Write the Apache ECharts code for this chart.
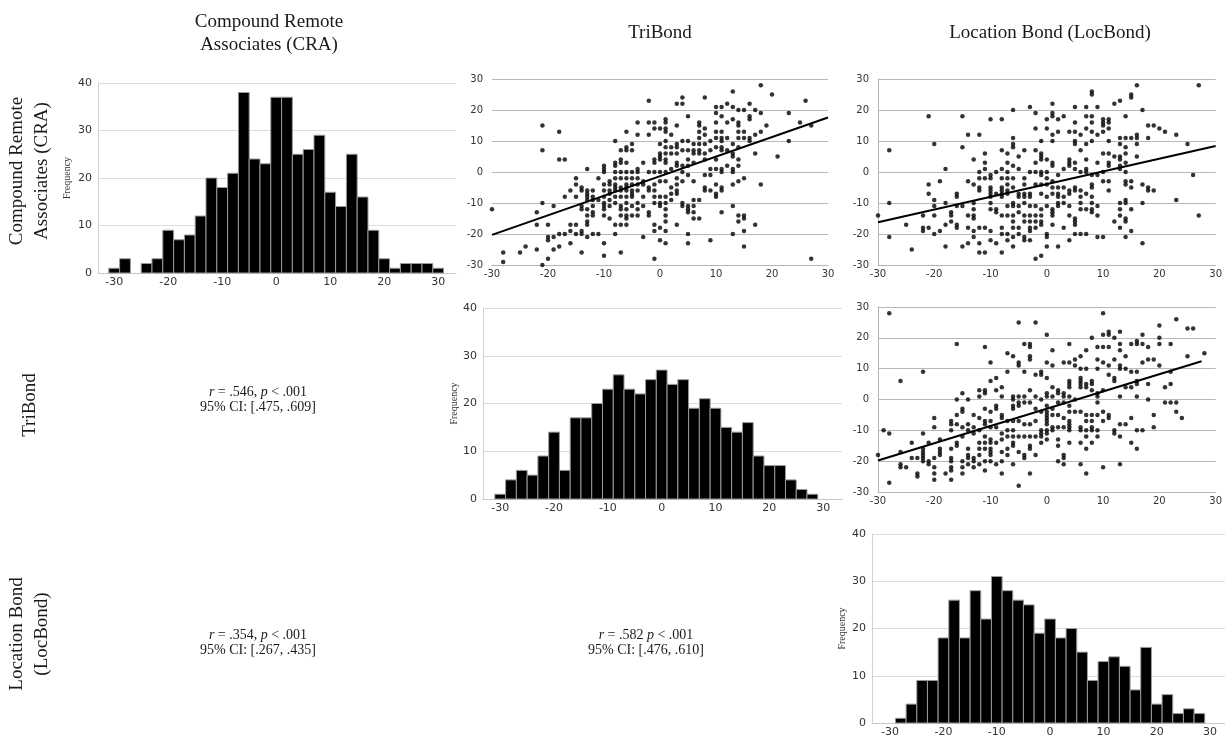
<!DOCTYPE html>
<html>
<head>
<meta charset="utf-8">
<script src="https://cdn.jsdelivr.net/npm/echarts@6/dist/echarts.min.js"></script>
<style>
html,body{margin:0;padding:0;background:#fff;}
#chart{width:1225px;height:738px;}
</style>
</head>
<body>
<div id="chart"></div>
<script>
// ---------- DATA ----------
const xTickValues = [-30, -20, -10, 0, 10, 20, 30];
const colTitles = ['Compound Remote\nAssociates (CRA)', 'TriBond', 'Location Bond (LocBond)'];
const rowTitles = ['Compound Remote\nAssociates (CRA)', 'TriBond', 'Location Bond\n(LocBond)'];
const binWidth = 2;

const craBinCenters = [-30,-28,-26,-24,-22,-20,-18,-16,-14,-12,-10,-8,-6,-4,-2,0,2,4,6,8,10,12,14,16,18,20,22,24,26,28,30];
const craCounts     = [1,3,0,2,3,9,7,8,12,20,18,21,38,24,23,37,37,25,26,29,17,14,25,16,9,3,1,2,2,2,1];

const triBinCenters = [-30,-28,-26,-24,-22,-20,-18,-16,-14,-12,-10,-8,-6,-4,-2,0,2,4,6,8,10,12,14,16,18,20,22,24,26,28];
const triCounts     = [1,4,6,5,9,14,6,17,17,20,23,26,23,22,25,27,24,25,19,21,19,15,14,16,9,7,7,4,2,1];

const locBinCenters = [-28,-26,-24,-22,-20,-18,-16,-14,-12,-10,-8,-6,-4,-2,0,2,4,6,8,10,12,14,16,18,20,22,24,26,28];
const locCounts     = [1,4,9,9,18,26,18,28,22,31,28,26,25,19,22,18,20,15,9,13,14,12,7,16,4,6,2,3,2];

// Scatter: x = TriBond, y = CRA
const triVsCra = [
[-30,-12],[-28,-26],[-28,-29],[-25,-26],[-24,-24],[-22,-13],[-22,-17],[-22,-25],
[-21,15],[-21,7],[-21,-10],[-21,-30],[-20,-17],[-20,-21],[-20,-22],[-20,-28],
[-19,-11],[-19,-21],[-19,-25],[-18,13],[-18,4],[-18,-20],[-18,-24],[-17,4],[-17,-8],[-17,-20],
[-16,-6],[-16,-17],[-16,-19],[-16,-23],[-15,-2],[-15,-4],[-15,-8],[-15,-17],[-15,-20],
[-14,-5],[-14,-6],[-14,-11],[-14,-12],[-14,-19],[-14,-20],[-14,-26],
[-13,1],[-13,-6],[-13,-7],[-13,-8],[-13,-9],[-13,-12],[-13,-14],[-13,-16],[-13,-17],[-13,-21],
[-12,-6],[-12,-8],[-12,-9],[-12,-11],[-12,-13],[-12,-14],[-12,-20],[-11,-2],[-11,-9],[-11,-20],
[-10,2],[-10,1],[-10,0],[-10,-4],[-10,-6],[-10,-8],[-10,-10],[-10,-11],[-10,-12],[-10,-14],[-10,-23],[-10,-27],
[-9,-3],[-9,-4],[-9,-6],[-9,-7],[-9,-9],[-9,-11],[-9,-15],
[-8,10],[-8,3],[-8,2],[-8,0],[-8,-2],[-8,-4],[-8,-5],[-8,-6],[-8,-8],[-8,-10],[-8,-17],[-8,-20],
[-7,7],[-7,4],[-7,3],[-7,0],[-7,-2],[-7,-5],[-7,-6],[-7,-8],[-7,-11],[-7,-12],[-7,-14],[-7,-17],[-7,-26],
[-6,13],[-6,8],[-6,7],[-6,3],[-6,0],[-6,-2],[-6,-4],[-6,-5],[-6,-6],[-6,-8],[-6,-10],[-6,-12],[-6,-14],[-6,-15],[-6,-17],
[-5,9],[-5,7],[-5,0],[-5,-2],[-5,-4],[-5,-6],[-5,-7],[-5,-8],[-5,-11],[-5,-14],
[-4,16],[-4,12],[-4,1],[-4,0],[-4,-2],[-4,-4],[-4,-6],[-4,-10],[-4,-12],[-4,-14],
[-3,3],[-3,-3],[-3,-4],[-3,-8],[-3,-11],[-3,-21],
[-2,23],[-2,16],[-2,12],[-2,0],[-2,-5],[-2,-6],[-2,-13],[-2,-14],
[-1,16],[-1,14],[-1,4],[-1,3],[-1,0],[-1,-4],[-1,-6],[-1,-8],[-1,-10],[-1,-17],[-1,-19],[-1,-28],
[0,14],[0,9],[0,6],[0,5],[0,4],[0,0],[0,-3],[0,-8],[0,-10],[0,-11],[0,-18],[0,-22],
[1,17],[1,16],[1,14],[1,13],[1,10],[1,8],[1,6],[1,4],[1,3],[1,0],[1,-3],[1,-8],[1,-10],[1,-12],[1,-14],[1,-16],[1,-19],[1,-23],
[2,12],[2,8],[2,6],[2,1],[2,-5],[2,-7],[2,-9],
[3,22],[3,15],[3,9],[3,8],[3,6],[3,3],[3,2],[3,-2],[3,-4],[3,-6],[3,-7],[3,-17],
[4,24],[4,22],[4,10],[4,7],[4,2],[4,0],[4,-3],[4,-10],[4,-11],
[5,18],[5,10],[5,7],[5,4],[5,2],[5,-1],[5,-11],[5,-12],[5,-13],[5,-20],[5,-23],
[6,9],[6,7],[6,6],[6,3],[6,-3],[6,-9],[6,-11],[6,-13],[6,-15],
[7,16],[7,15],[7,13],[7,11],[7,9],[7,7],[7,6],[7,-9],[7,-15],
[8,24],[8,14],[8,12],[8,9],[8,6],[8,4],[8,-1],[8,-5],[8,-6],
[9,10],[9,7],[9,1],[9,-1],[9,-6],[9,-22],
[10,21],[10,19],[10,16],[10,13],[10,11],[10,8],[10,4],[10,1],[10,-4],[10,-7],[10,-8],
[11,21],[11,18],[11,13],[11,11],[11,10],[11,8],[11,7],[11,1],[11,0],[11,-5],[11,-6],[11,-13],
[12,22],[12,16],[12,11],[12,7],[12,2],
[13,26],[13,21],[13,17],[13,9],[13,6],[13,5],[13,1],[13,0],[13,-4],[13,-11],[13,-20],
[14,20],[14,16],[14,15],[14,13],[14,11],[14,8],[14,4],[14,2],[14,-3],[14,-14],[14,-16],
[15,20],[15,13],[15,11],[15,-2],[15,-14],[15,-15],[15,-19],[15,-24],
[16,22],[16,18],[16,17],[16,11],[16,10],[17,20],[17,12],[17,6],[17,-17],
[18,28],[18,19],[18,13],[18,-4],[19,15],[20,25],[21,5],[23,19],[23,10],[25,16],[26,23],[27,15],[27,-28]
];
const triVsCraFit = [[-30,-20.3],[30,17.6]];

// Scatter: x = LocBond, y = CRA
const locVsCra = [
[-30,-14],[-28,7],[-28,-10],[-28,-21],[-25,-17],[-24,-25],[-22,-14],[-22,-18],[-22,-19],
[-21,18],[-21,-4],[-21,-7],[-21,-18],[-20,9],[-20,-9],[-20,-11],[-20,-14],[-20,-20],
[-19,-3],[-19,-19],[-18,1],[-18,-10],[-18,-17],[-18,-24],[-17,-13],[-17,-14],[-17,-16],
[-16,-7],[-16,-8],[-16,-11],[-16,-17],[-16,-18],[-15,18],[-15,8],[-15,-11],[-15,-24],
[-14,12],[-14,-3],[-14,-14],[-14,-18],[-14,-23],
[-13,4],[-13,-4],[-13,-10],[-13,-12],[-13,-14],[-13,-15],[-13,-19],[-13,-21],
[-12,12],[-12,0],[-12,-2],[-12,-5],[-12,-6],[-12,-18],[-12,-23],[-12,-26],
[-11,6],[-11,3],[-11,1],[-11,-2],[-11,-18],[-11,-26],
[-10,17],[-10,-1],[-10,-2],[-10,-5],[-10,-6],[-10,-7],[-10,-8],[-10,-10],[-10,-12],[-10,-19],[-10,-22],
[-9,0],[-9,-7],[-9,-12],[-9,-13],[-9,-23],
[-8,17],[-8,7],[-8,1],[-8,-2],[-8,-5],[-8,-6],[-8,-7],[-8,-8],[-8,-14],[-8,-18],[-8,-20],[-8,-26],
[-7,6],[-7,3],[-7,0],[-7,-2],[-7,-4],[-7,-6],[-7,-7],[-7,-11],[-7,-14],[-7,-20],[-7,-22],
[-6,20],[-6,11],[-6,9],[-6,8],[-6,2],[-6,-2],[-6,-5],[-6,-10],[-6,-11],[-6,-14],[-6,-16],[-6,-18],[-6,-21],[-6,-24],
[-5,5],[-5,1],[-5,-7],[-5,-8],[-5,-11],[-5,-13],[-5,-18],[-5,-20],
[-4,7],[-4,-2],[-4,-4],[-4,-7],[-4,-8],[-4,-10],[-4,-14],[-4,-16],[-4,-21],[-4,-22],
[-3,21],[-3,0],[-3,-7],[-3,-8],[-3,-11],[-3,-14],[-3,-16],[-3,-18],[-3,-19],[-3,-22],
[-2,19],[-2,14],[-2,7],[-2,3],[-2,0],[-2,-4],[-2,-11],[-2,-14],[-2,-16],[-2,-18],[-2,-28],
[-1,10],[-1,6],[-1,5],[-1,4],[-1,0],[-1,-1],[-1,-4],[-1,-7],[-1,-12],[-1,-14],[-1,-16],[-1,-17],[-1,-27],
[0,17],[0,14],[0,4],[0,0],[0,-2],[0,-4],[0,-8],[0,-11],[0,-20],[0,-21],[0,-24],
[1,22],[1,19],[1,18],[1,12],[1,10],[1,3],[1,2],[1,-3],[1,-5],[1,-7],[1,-12],[1,-13],[1,-14],[1,-17],
[2,17],[2,13],[2,-1],[2,-5],[2,-7],[2,-8],[2,-10],[2,-11],[2,-24],
[3,18],[3,1],[3,-5],[3,-8],[3,-10],[3,-18],
[4,13],[4,4],[4,3],[4,2],[4,-6],[4,-7],[4,-11],[4,-14],[4,-22],
[5,21],[5,16],[5,13],[5,10],[5,9],[5,3],[5,1],[5,-5],[5,-6],[5,-15],[5,-16],[5,-17],[5,-20],
[6,12],[6,7],[6,0],[6,-6],[6,-8],[6,-10],[6,-12],[6,-20],
[7,21],[7,18],[7,14],[7,9],[7,4],[7,1],[7,0],[7,-7],[7,-12],[7,-20],
[8,26],[8,25],[8,18],[8,16],[8,13],[8,10],[8,-1],[8,-4],[8,-5],[8,-8],[8,-10],[8,-12],[8,-13],
[9,21],[9,12],[9,3],[9,-1],[9,-11],[9,-14],[9,-21],
[10,17],[10,16],[10,15],[10,13],[10,6],[10,0],[10,-3],[10,-21],
[11,17],[11,16],[11,14],[11,10],[11,6],[11,3],[11,2],[11,-3],[11,-6],
[12,22],[12,5],[12,-16],
[13,23],[13,11],[13,9],[13,5],[13,4],[13,2],[13,1],[13,-10],[13,-12],[13,-14],[13,-18],
[14,18],[14,11],[14,8],[14,6],[14,3],[14,0],[14,-3],[14,-4],[14,-9],[14,-10],[14,-15],[14,-16],[14,-21],
[15,25],[15,24],[15,11],[15,-3],[15,-5],[15,-12],[15,-19],
[16,28],[16,12],[16,11],[16,9],[16,5],[17,20],[17,-4],[17,-10],[17,-23],
[18,15],[18,11],[18,-5],[18,-6],[19,15],[19,-6],[20,14],[21,13],[23,12],[23,-9],[25,9],[26,-1],[27,28],[27,-14]
];
const locVsCraFit = [[-30,-16.2],[30,8.4]];

// Scatter: x = LocBond, y = TriBond
const locVsTri = [
[-30,-18],[-29,-10],[-28,28],[-28,-11],[-28,-27],[-26,6],[-26,-17],[-26,-21],[-26,-22],[-25,-22],
[-24,-14],[-24,-19],[-23,-19],[-23,-24],[-23,-25],
[-22,9],[-22,-11],[-22,-16],[-22,-17],[-22,-18],[-22,-19],[-22,-20],
[-21,-14],[-21,-20],[-21,-21],[-20,-6],[-20,-9],[-20,-19],[-20,-22],[-20,-24],[-20,-26],
[-19,-13],[-19,-16],[-19,-17],[-19,-18],[-18,-24],
[-17,-7],[-17,-8],[-17,-10],[-17,-16],[-17,-19],[-17,-20],[-17,-22],[-17,-23],[-17,-26],
[-16,18],[-16,0],[-16,-5],[-16,-8],[-16,-14],[-16,-15],
[-15,2],[-15,-3],[-15,-4],[-15,-9],[-15,-12],[-15,-20],[-15,-22],[-15,-24],
[-14,0],[-14,-8],[-14,-10],[-14,-16],[-14,-18],[-14,-19],[-14,-21],
[-13,-5],[-13,-9],[-13,-11],[-13,-19],[-13,-20],[-13,-22],
[-12,3],[-12,1],[-12,-6],[-12,-10],[-12,-14],[-12,-16],[-12,-18],[-12,-21],
[-11,17],[-11,3],[-11,2],[-11,-3],[-11,-7],[-11,-8],[-11,-12],[-11,-14],[-11,-16],[-11,-20],[-11,-23],
[-10,12],[-10,6],[-10,-4],[-10,-7],[-10,-9],[-10,-13],[-10,-14],[-10,-16],[-10,-17],[-10,-18],[-10,-20],
[-9,7],[-9,3],[-9,-2],[-9,-3],[-9,-9],[-9,-14],[-9,-21],
[-8,4],[-8,1],[-8,-5],[-8,-6],[-8,-11],[-8,-13],[-8,-17],[-8,-20],[-8,-24],
[-7,15],[-7,9],[-7,-7],[-7,-10],[-7,-12],[-7,-16],[-7,-18],
[-6,14],[-6,1],[-6,0],[-6,-2],[-6,-3],[-6,-7],[-6,-10],[-6,-12],[-6,-14],[-6,-15],[-6,-21],
[-5,25],[-5,11],[-5,12],[-5,1],[-5,-1],[-5,-2],[-5,-7],[-5,-12],[-5,-17],[-5,-28],
[-4,18],[-4,9],[-4,1],[-4,-1],[-4,-8],[-4,-12],[-4,-18],[-4,-19],
[-3,18],[-3,17],[-3,14],[-3,13],[-3,3],[-3,-1],[-3,-8],[-3,-12],[-3,-15],[-3,-16],[-3,-24],
[-2,25],[-2,8],[-2,1],[-2,-3],[-2,-7],[-2,-12],[-2,-18],
[-1,9],[-1,8],[-1,0],[-1,-4],[-1,-10],[-1,-11],[-1,-12],[-1,-14],
[0,21],[0,12],[0,7],[0,2],[0,1],[0,-2],[0,-4],[0,-5],[0,-6],[0,-7],[0,-8],[0,-10],[0,-11],[0,-13],
[1,16],[1,11],[1,4],[1,1],[1,-3],[1,-5],[1,-9],[1,-10],
[2,3],[2,2],[2,-1],[2,-5],[2,-9],[2,-13],[2,-15],[2,-20],
[3,12],[3,2],[3,1],[3,-1],[3,-6],[3,-9],[3,-18],[3,-19],[3,-21],
[4,18],[4,12],[4,6],[4,5],[4,4],[4,1],[4,-2],[4,-4],[4,-7],[4,-8],[4,-9],[4,-10],[4,-14],
[5,13],[5,11],[5,0],[5,-4],
[6,14],[6,10],[6,7],[6,6],[6,5],[6,4],[6,-4],[6,-9],[6,-10],[6,-14],[6,-21],
[7,16],[7,10],[7,5],[7,4],[7,-5],[7,-7],[7,-10],[7,-12],[7,-16],[7,-24],
[8,20],[8,6],[8,5],[8,3],[8,-5],[8,-7],[8,-9],[8,-10],[8,-14],
[9,17],[9,13],[9,10],[9,2],[9,1],[9,-1],[9,-5],[9,-10],[9,-12],
[10,28],[10,21],[10,17],[10,12],[10,3],[10,-4],[10,-7],[10,-22],
[11,22],[11,21],[11,17],[11,11],[11,8],[11,-5],[11,-6],
[12,20],[12,13],[12,7],[12,6],[12,-10],[12,-11],
[13,22],[13,18],[13,16],[13,11],[13,10],[13,1],[13,-8],[13,-12],[13,-21],
[14,14],[14,10],[14,4],[14,-8],[15,18],[15,9],[15,4],[15,-6],[15,-14],
[16,19],[16,18],[16,9],[16,6],[16,5],[16,1],[16,-10],[16,-16],
[17,21],[17,18],[17,12],[17,-10],[18,17],[18,13],[18,5],[18,0],[19,13],[19,-5],[19,-9],
[20,24],[20,20],[20,18],[20,11],[21,4],[21,-1],[22,18],[22,9],[22,5],[22,-1],
[23,26],[23,-1],[23,-4],[24,-6],[25,14],[25,23],[26,23],[28,15]
];
const locVsTriFit = [[-30,-19.8],[27.5,12.4]];

const corrTexts = [
  {r: '.546,', p: '.001', ci: '[.475, .609]'},
  {r: '.354,', p: '.001', ci: '[.267, .435]'},
  {r: '.582',  p: '.001', ci: '[.476, .610]'}
];

// ---------- CHART ----------
const chart = echarts.init(document.getElementById('chart'), null, {renderer: 'canvas'});
const serif = '"Liberation Serif", "DejaVu Serif", serif';
const sans = '"DejaVu Sans", sans-serif';

const grids = [
  {left: 98,  top: 83,  width: 358, height: 190}, // 0 hist CRA
  {left: 492, top: 79,  width: 336, height: 186}, // 1 TriBond vs CRA
  {left: 878, top: 79,  width: 339, height: 186}, // 2 LocBond vs CRA
  {left: 483, top: 308, width: 359, height: 191}, // 3 hist TriBond
  {left: 878, top: 307, width: 339, height: 185}, // 4 LocBond vs TriBond
  {left: 872, top: 534, width: 353, height: 190}  // 5 hist LocBond
];
const histRanges = {0: [-33, 33.3], 3: [-33.2, 33.5], 5: [-33.4, 32.8]};
const nameGaps = {0: 26, 3: 24, 5: 25};

const xAxes = [], yAxes = [];
grids.forEach((g, i) => {
  const isHist = (i in histRanges);
  if (isHist) {
    xAxes.push({
      type: 'value', gridIndex: i, min: histRanges[i][0], max: histRanges[i][1],
      axisLine: {show: true, onZero: false, lineStyle: {color: '#c8c8c8', width: 1}},
      axisTick: {show: false},
      splitLine: {show: false},
      axisLabel: {customValues: xTickValues, fontFamily: sans, fontSize: 11, color: '#333', margin: 4}
    });
    yAxes.push({
      type: 'value', gridIndex: i, min: 0, max: 40, interval: 10,
      name: 'Frequency', nameLocation: 'middle', nameGap: nameGaps[i],
      nameTextStyle: {fontFamily: serif, fontSize: 10, color: '#333'},
      axisLine: {show: true, onZero: false, lineStyle: {color: '#d0d0d0', width: 1}},
      axisTick: {show: false},
      splitLine: {show: true, lineStyle: {color: '#dcdcdc', width: 1}},
      axisLabel: {fontFamily: sans, fontSize: 11, color: '#333', margin: 6}
    });
  } else {
    xAxes.push({
      type: 'value', gridIndex: i, min: -30, max: 30, interval: 10,
      axisLine: {show: true, onZero: false, lineStyle: {color: '#b4b4b4', width: 1}},
      axisTick: {show: false},
      splitLine: {show: false},
      axisLabel: {fontFamily: sans, fontSize: 10, color: '#333', margin: 4}
    });
    yAxes.push({
      type: 'value', gridIndex: i, min: -30, max: 30, interval: 10,
      axisLine: {show: i !== 1, onZero: false, lineStyle: {color: '#b4b4b4', width: 1}},
      axisTick: {show: false},
      splitLine: {show: true, lineStyle: {color: '#b8b8b8', width: 1}},
      axisLabel: {fontFamily: sans, fontSize: 10, color: '#333', margin: 9}
    });
  }
});

function histSeries(idx, centers, counts) {
  return {
    type: 'custom', xAxisIndex: idx, yAxisIndex: idx,
    data: centers.map((c, k) => [c, counts[k]]),
    encode: {x: 0, y: 1},
    clip: false,
    renderItem: function (params, api) {
      const x = api.value(0), y = api.value(1);
      if (!y) return null;
      const p0 = api.coord([x - binWidth / 2, 0]);
      const p1 = api.coord([x + binWidth / 2, y]);
      return {
        type: 'rect',
        shape: {x: p0[0], y: p1[1], width: p1[0] - p0[0], height: p0[1] - p1[1]},
        style: {fill: '#000', stroke: '#9a9a9a', lineWidth: 1}
      };
    }
  };
}
function scatterSeries(idx, pts) {
  return {type: 'scatter', xAxisIndex: idx, yAxisIndex: idx, data: pts,
    symbol: 'circle', symbolSize: 4.5, itemStyle: {color: '#000'}, silent: true};
}
function fitSeries(idx, pts) {
  return {type: 'line', xAxisIndex: idx, yAxisIndex: idx, data: pts, symbol: 'none',
    lineStyle: {color: '#000', width: 2}, silent: true};
}

const graphics = [];
graphics.push({type: 'text', x: 269, y: 34, style: {text: colTitles[0], font: '19px ' + serif, fill: '#1a1a1a', align: 'center', verticalAlign: 'middle', lineHeight: 23}});
graphics.push({type: 'text', x: 660, y: 33, style: {text: colTitles[1], font: '19px ' + serif, fill: '#1a1a1a', align: 'center', verticalAlign: 'middle'}});
graphics.push({type: 'text', x: 1050, y: 33, style: {text: colTitles[2], font: '19px ' + serif, fill: '#1a1a1a', align: 'center', verticalAlign: 'middle'}});
[[30, 171], [30, 405], [30, 634]].forEach((p, k) => {
  graphics.push({type: 'text', x: p[0], y: p[1], rotation: Math.PI / 2,
    style: {text: rowTitles[k], font: '19px ' + serif, fill: '#1a1a1a', align: 'center', verticalAlign: 'middle', lineHeight: 25}});
});
[[258, 400], [258, 643], [646, 643]].forEach((p, k) => {
  const c = corrTexts[k];
  graphics.push({type: 'text', x: p[0], y: p[1],
    style: {
      text: '{i|r} = ' + c.r + ' {i|p} < ' + c.p + '\n95% CI: ' + c.ci,
      font: '14px ' + serif, fill: '#1a1a1a', align: 'center', verticalAlign: 'middle', lineHeight: 15,
      rich: {i: {fontStyle: 'italic', fontFamily: serif, fontSize: 14, lineHeight: 15}}
    }});
});

const option = {
  animation: false,
  backgroundColor: '#fff',
  grid: grids.map(g => Object.assign({containLabel: false}, g)),
  xAxis: xAxes,
  yAxis: yAxes,
  series: [
    histSeries(0, craBinCenters, craCounts),
    scatterSeries(1, triVsCra), fitSeries(1, triVsCraFit),
    scatterSeries(2, locVsCra), fitSeries(2, locVsCraFit),
    histSeries(3, triBinCenters, triCounts),
    scatterSeries(4, locVsTri), fitSeries(4, locVsTriFit),
    histSeries(5, locBinCenters, locCounts)
  ],
  graphic: graphics
};
chart.setOption(option);
</script>
</body>
</html>
